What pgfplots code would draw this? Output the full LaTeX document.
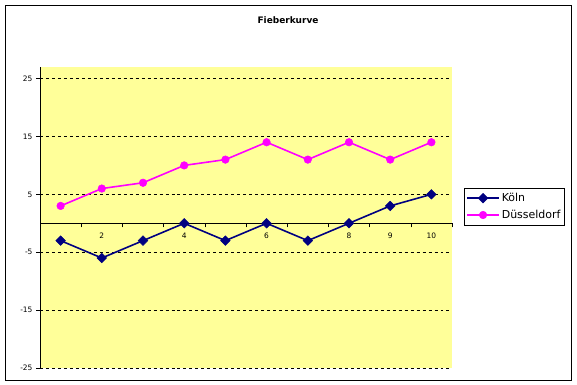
\documentclass[border=0pt]{standalone}
\usepackage{pgfplots}
\pgfplotsset{compat=1.18}
\usepackage{fontspec}
\setmainfont{DejaVu Sans}
\definecolor{koeln}{RGB}{0,0,128}
\definecolor{dus}{RGB}{255,0,255}
\definecolor{plotbg}{RGB}{255,255,153}
\begin{document}
\begin{tikzpicture}
\begin{axis}[
  scale only axis,
  width=412bp, height=301bp,
  xmin=0.5, xmax=10.5,
  ymin=-25, ymax=27,
  clip=false,
  axis background/.style={fill=plotbg},
  axis y line=left,
  axis x line=middle,
  axis line style={-, black, line width=0.7pt},
  ytick={-25,-15,-5,5,15,25},
  ymajorgrids,
  major grid style={black, dashed, line width=0.6pt},
  xtick={0.5,1.5,...,10.5},
  xticklabels={},
  extra x ticks={2,4,6,8,9,10},
  extra x tick style={major tick length=0pt, grid=none},
  extra x tick labels={2,4,6,8,9,10},
  tick align=outside,
  major tick length=4bp,
  tick style={black, line width=0.6pt},
  /pgf/number format/assume math mode=true,
  ticklabel style={font=\fontsize{7.5}{9}\selectfont},
  xticklabel style={yshift=-6bp},
  legend image code/.code={\draw[mark repeat=2,mark phase=2] plot coordinates {(0bp,0bp) (16bp,0bp) (32bp,0bp)};},
  legend style={at={(axis description cs:1.029,0.598)}, anchor=north west,
    draw=black, line width=0.6pt, font=\fontsize{11}{13}\selectfont,
    inner xsep=2bp, inner ysep=3bp, row sep=3bp,
    cells={anchor=west}},
  legend cell align=left,
]
\path (axis description cs:-0.0971,-0.0565) rectangle (axis description cs:1.3034,1.2226);
\draw[black, line width=0.8pt] (axis description cs:-0.085,-0.040) rectangle (axis description cs:1.291,1.206);
\node[font=\bfseries\fontsize{9}{11}\selectfont] at (axis description cs:0.602,1.156) {Fieberkurve};
\addplot[koeln, line width=1.6pt, mark=square*, mark size=3.4bp, mark options={solid, fill=koeln, line width=0.5pt, rotate=45}]
  coordinates {(1,-3) (2,-6) (3,-3) (4,0) (5,-3) (6,0) (7,-3) (8,0) (9,3) (10,5)};
\addlegendentry{Köln}
\addplot[dus, line width=1.6pt, mark=*, mark size=3.8bp, mark options={solid, fill=dus, line width=0.5pt}]
  coordinates {(1,3) (2,6) (3,7) (4,10) (5,11) (6,14) (7,11) (8,14) (9,11) (10,14)};
\addlegendentry{Düsseldorf}
\end{axis}
\end{tikzpicture}
\end{document}
